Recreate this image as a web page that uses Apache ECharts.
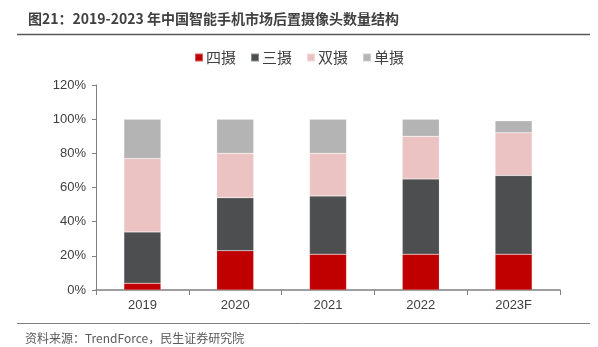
<!DOCTYPE html>
<html><head><meta charset="utf-8">
<script src="https://cdn.jsdelivr.net/npm/echarts@6/dist/echarts.min.js"></script>
<style>html,body{margin:0;padding:0;background:#fff}#c{width:598px;height:347px}</style>
</head><body><div id="c"></div>
<script>
const categories = ['2019', '2020', '2021', '2022', '2023F'];
const quad = [4, 23, 21, 21, 21];
const triple = [30, 31, 34, 44, 46];
const dual = [43, 26, 25, 25, 25];
const single = [23, 20, 20, 10, 7];
const seriesNames = ['四摄', '三摄', '双摄', '单摄'];
const colors = ['#C00000', '#4D4E50', '#EBC3C3', '#B4B4B4'];
const yTicks = [0, 20, 40, 60, 80, 100, 120];

const chart = echarts.init(document.getElementById('c'));
const font = '"Microsoft YaHei","Noto Sans CJK SC",sans-serif';
const data = [quad, triple, dual, single];
chart.setOption({
  animation: false,
  title: {
    text: '图21：2019-2023 年中国智能手机市场后置摄像头数量结构',
    left: 23, top: 7,
    textStyle: {fontSize: 14, fontWeight: 'bold', color: '#404040', fontFamily: font}
  },
  graphic: [
    {type: 'line', shape: {x1: 17, y1: 34.5, x2: 590, y2: 34.5}, style: {stroke: '#595959', lineWidth: 1.5}},
    {type: 'line', shape: {x1: 17, y1: 323.5, x2: 590, y2: 323.5}, style: {stroke: '#808080', lineWidth: 1}},
    {type: 'text', left: 25, top: 332, style: {text: '资料来源：TrendForce，民生证券研究院', fontSize: 12, fill: '#595959', fontFamily: font}}
  ],
  legend: {
    top: 45, left: 'center',
    itemWidth: 8, itemHeight: 8, itemGap: 14,
    icon: 'rect',
    textStyle: {fontSize: 15, color: '#404040', fontFamily: font, padding: [0, 0, 0, -2]},
    data: seriesNames
  },
  grid: {left: 96, right: 38, top: 85, bottom: 57},
  xAxis: {
    type: 'category', data: categories,
    axisLine: {lineStyle: {color: '#808080', width: 1.5}},
    axisTick: {show: true, alignWithLabel: false, length: 5, lineStyle: {color: '#808080'}},
    axisLabel: {fontSize: 13, color: '#404040', margin: 9, fontFamily: 'Arial, "Liberation Sans", sans-serif'}
  },
  yAxis: {
    type: 'value', min: 0, max: 120, interval: 20,
    axisLine: {show: true, lineStyle: {color: '#808080', width: 1}},
    axisTick: {show: true, length: 4, inside: false, lineStyle: {color: '#808080'}},
    splitLine: {show: false},
    axisLabel: {fontSize: 13, color: '#404040', margin: 10, formatter: v => v + '%', fontFamily: 'Arial, "Liberation Sans", sans-serif'}
  },
  series: seriesNames.map((n, i) => ({
    name: n, type: 'bar', stack: 'total', barWidth: 37,
    data: data[i],
    itemStyle: {color: colors[i], borderColor: 'rgba(255,255,255,0.35)', borderWidth: 0.5}
  }))
});
</script></body></html>
